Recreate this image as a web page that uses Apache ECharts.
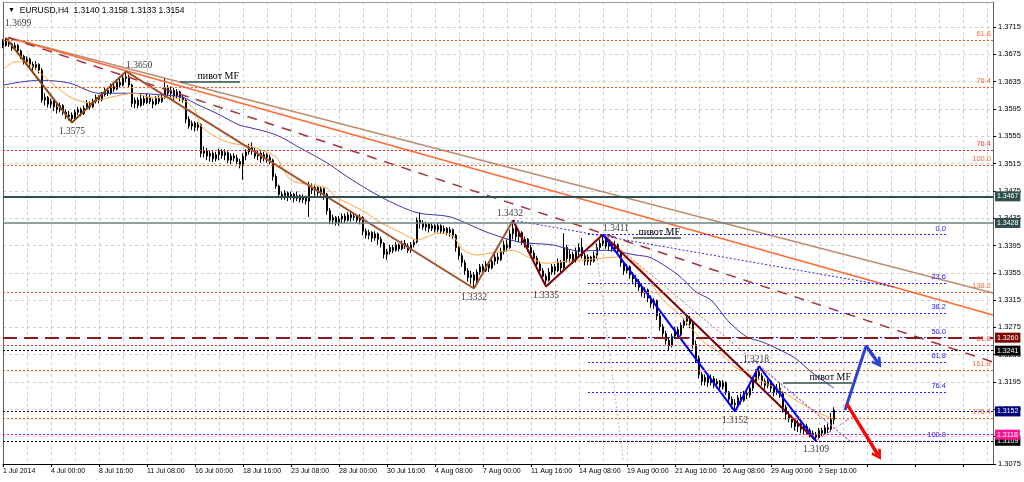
<!DOCTYPE html>
<html><head><meta charset="utf-8">
<script src="https://cdn.jsdelivr.net/npm/echarts@6/dist/echarts.min.js"></script>
<style>html,body{margin:0;padding:0;background:#fff}#c{width:1024px;height:482px}</style>
</head><body><div id="c"></div>
<script>
// ---------------- DATA ----------------
const symbolName = 'EURUSD,H4';
const lastQuote = ['1.3140', '1.3158', '1.3133', '1.3154'];
const tickLabels = ['1 Jul 2014','4 Jul 00:00','8 Jul 16:00','11 Jul 08:00','16 Jul 00:00','18 Jul 16:00','23 Jul 08:00','28 Jul 00:00','30 Jul 16:00','4 Aug 08:00','7 Aug 00:00','11 Aug 16:00','14 Aug 08:00','19 Aug 00:00','21 Aug 16:00','26 Aug 08:00','29 Aug 00:00','2 Sep 16:00'];
const yTicks = { min: 1.3075, max: 1.37516, step: 0.004 };
const barSlots = 330;

// prices in pips above 1.3000
const firstOpen = 692;
const closePips = [
688,694,690,684,688,680,672,664,668,660,
656,660,652,608,612,602,606,598,594,600,
590,584,586,581,590,594,588,596,603,598,
606,612,608,616,622,618,628,624,634,630,
640,642,630,603,608,600,610,604,612,606,
602,610,606,612,626,618,622,614,620,612,
608,580,570,574,568,572,530,534,526,530,
522,528,533,527,531,520,526,523,518,514,
526,532,538,534,526,530,522,528,524,520,
496,482,470,468,472,466,470,464,468,462,
466,460,480,476,480,472,478,470,446,432,
436,428,434,438,432,440,436,438,432,436,
416,410,414,406,412,404,398,382,386,392,
388,396,390,398,394,388,396,400,432,428,
422,426,420,424,418,424,416,420,414,418,
410,392,380,370,358,348,352,344,356,364,
358,368,362,372,378,374,386,396,392,412,
420,408,414,400,404,392,384,376,368,358,
350,344,356,364,358,370,362,392,376,382,
374,386,392,380,372,378,372,380,392,398,
402,394,398,390,396,386,370,358,364,352,
346,342,334,326,330,318,310,314,292,276,
266,256,248,262,272,264,278,284,288,280,
250,230,206,196,202,194,200,192,196,188,
194,180,170,162,164,172,168,178,176,186,
196,210,204,196,190,196,186,180,186,178,
158,148,142,136,130,134,126,130,124,120,
118,114,124,120,128,126,140,154];
const highPips = [
697,699,697,692,692,690,682,674,672,670,
664,665,662,655,618,614,610,608,602,604,
602,594,592,590,594,598,597,600,608,606,
610,616,615,620,626,626,632,632,638,640,
644,650,645,632,612,612,616,614,618,616,
610,614,615,618,640,630,628,626,624,622,
616,610,584,578,577,576,574,540,538,534,
533,532,537,536,536,533,530,530,528,522,
530,536,544,546,538,534,533,532,530,528,
522,500,484,474,476,474,474,472,474,470,
470,468,488,486,484,482,482,480,472,450,
440,438,438,442,442,444,444,442,440,441,
438,420,418,416,416,414,408,400,390,396,
396,400,398,402,403,398,400,404,436,443,
432,430,428,428,426,428,426,424,422,422,
420,412,394,384,374,362,358,356,360,368,
368,372,372,378,384,384,392,402,404,418,
432,424,418,416,408,406,396,388,380,372,
362,354,362,368,368,376,374,413,396,388,
386,392,398,406,384,382,380,386,398,404,
411,406,402,400,402,398,388,372,368,366,
356,352,346,338,334,332,322,318,316,296,
280,270,260,266,276,276,282,288,293,292,
284,256,234,210,206,206,206,204,200,198,
198,196,182,174,170,176,178,182,184,190,
200,214,218,208,200,200,198,190,192,194,
182,162,152,146,140,140,136,134,134,128,
124,122,128,128,132,134,150,158];
const lowPips = [
684,686,686,680,681,676,668,660,658,655,
650,652,647,604,600,597,596,592,588,590,
586,580,578,575,578,586,584,586,594,594,
596,603,603,606,613,614,616,620,622,626,
628,634,626,598,596,596,598,600,602,602,
596,600,602,604,610,614,612,608,610,606,
604,574,566,564,562,563,524,524,520,518,
517,518,520,522,520,516,514,518,514,508,
491,520,528,528,522,520,516,518,516,514,
490,478,466,462,462,460,462,458,460,458,
457,455,437,470,468,466,468,462,440,426,
426,424,424,428,428,430,430,431,428,426,
410,405,404,400,402,396,392,376,374,382,
384,386,386,388,390,384,384,392,398,420,
418,416,414,416,414,414,412,412,410,408,
405,386,374,364,352,342,338,332,340,352,
354,356,356,360,366,368,372,382,386,390,
404,402,400,396,392,386,378,370,362,352,
342,335,342,352,352,356,356,360,370,370,
368,370,380,376,366,366,366,370,376,388,
394,390,388,386,388,382,364,352,354,346,
338,334,328,320,318,312,304,302,286,270,
260,250,242,246,258,260,262,274,278,274,
244,223,200,190,190,188,190,186,186,184,
184,176,164,156,152,160,162,166,170,172,
182,194,198,190,184,186,180,174,176,172,
150,140,136,128,124,122,120,118,118,114,
112,109,112,116,118,120,122,133];

// moving averages: [bar, price]
const maFast = [[0,1.3652],[4,1.3664],[7,1.3664],[12,1.3649],[17,1.3630],[23,1.3611],[29,1.3604],[32,1.3608],[39,1.3615],[44,1.3618],[49,1.3612],[54,1.3612],[60,1.3608],[64,1.3593],[66,1.3570],[71,1.3554],[76,1.3545],[82,1.3541],[86,1.3535],[91,1.3525],[93,1.3510],[96,1.3491],[102,1.3484],[108,1.3479],[111,1.3466],[115,1.3457],[121,1.3443],[126,1.3428],[133,1.3413],[138,1.3403],[141,1.3407],[145,1.3413],[150,1.3409],[153,1.3390],[158,1.3381],[164,1.3385],[170,1.3388],[175,1.3378],[181,1.3369],[186,1.3371],[194,1.3374],[201,1.3377],[205,1.3378],[211,1.3369],[216,1.3340],[220,1.3315],[225,1.3296],[230,1.3271],[234,1.3252],[239,1.3238],[244,1.3217],[248,1.3208],[254,1.3194],[259,1.3183],[264,1.3169],[270,1.3154],[275,1.3144],[277,1.3142]];
const maSlow = [[0,1.3630],[12,1.3637],[22,1.3633],[32,1.3618],[42,1.3618],[55,1.3615],[60,1.3612],[65,1.3601],[71,1.3589],[79,1.3571],[82,1.3568],[91,1.3557],[99,1.3538],[108,1.3516],[115,1.3495],[126,1.3466],[138,1.3443],[149,1.3437],[161,1.3415],[172,1.3400],[183,1.3396],[192,1.3387],[201,1.3388],[211,1.3381],[216,1.3377],[225,1.3352],[231,1.3327],[236,1.3315],[242,1.3283],[248,1.3261],[253,1.3254],[259,1.3242],[264,1.3230],[270,1.3208],[277,1.3186]];

// drawn objects: [bar, price]
const zigBrown = [[1,1.3699],[23,1.3575],[41,1.3650]];
const trendBrown = [[41,1.3650],[157,1.3332]];
const upBrown = [[157,1.3332],[170,1.3432]];
const zigMaroon = [[170,1.3432],[181,1.3335],[200,1.3411]];
const trendMaroon = [[200,1.3411],[271,1.3109]];
const zigBlue = [[200,1.3411],[244,1.3152],[252,1.3218],[271,1.3109]];
const rayTan = [[1.7,1.36995],[330,1.33254]];
const rayOrange = [[1.7,1.36995],[330,1.32932]];
const rayMaroon = [[1.7,1.36995],[330,1.32244]];
const rayBlueDot = [[170,1.3432],[297,1.33342]];
const channelRed = [[200,1.3411],[283,1.3106]];
const channelBlue = [[252,1.3218],[283,1.3106]];
const timeLine = [[197.3,1.3404],[206.8,1.3079]];
const pinkLine = [[271,1.3109],[284,1.31468]];
const arrowUp = [[280.7,1.3154],[287.7,1.3248],[291.7,1.3223]];
const arrowDown = [[281.3,1.3163],[291.7,1.3088]];

// horizontal levels with price tags
const priceLevels = [1.3467, 1.3428, 1.3260, 1.3241, 1.3152, 1.3109, 1.3118];
// fibonacci levels
const fibWideLevels = [1.3696, 1.3627, 1.3535, 1.3513, 1.3327, 1.3249, 1.3213, 1.3142];
const fibWideTexts = ['61.8', '76.4', '76.4', '100.0', '138.2', '61.8', '161.8', '176.4'];
const fibBlueLevels = [1.3411, 1.3340, 1.3296, 1.3260, 1.3224, 1.3180, 1.3109];
const fibBlueTexts = ['0.0', '23.6', '38.2', '50.0', '61.8', '76.4', '100.0'];
const fibBlueBars = [195, 315];
// pivot MF marks: [fromBar, toBar, price]
const pivots = [[59, 79, 1.36345], [210, 226, 1.3406], [260, 283, 1.31936]];
const pivotText = 'пивот MF';
// price annotations
const notesFar = [[1, 1.3699, '1.3699']];
const notesLeft = [[41, 1.3650, '1.3650'], [200, 1.3411, '1.3411']];
const notesTop = [[170, 1.3432, '1.3432'], [252, 1.3218, '1.3218']];
const notesBottom = [[23, 1.3575, '1.3575'], [157, 1.3332, '1.3332'], [181, 1.3335, '1.3335'], [244, 1.3152, '1.3152'], [271, 1.3109, '1.3109']];

// ---------------- STYLE / BUILD ----------------
const SANS = "'Liberation Sans', Arial, sans-serif";
const SERIF = "'Liberation Serif', 'Times New Roman', serif";
const toP = p => +(1.3 + p / 10000).toFixed(5);

const candles = closePips.map((c, i) => {
  const o = i ? closePips[i - 1] : firstOpen;
  const h = Math.max(highPips[i], o, c), l = Math.min(lowPips[i], o, c);
  return [i, toP(o), toP(c), toP(l), toP(h)];
});

const levelLook = [
  { color: '#2F4F4F', type: 'solid', width: 2, box: '#2F4F4F' },
  { color: '#6F8080', type: 'solid', width: 1.5, box: '#2F4F4F' },
  { color: '#8B1A1A', type: [14, 7], width: 2, box: '#800000' },
  { color: '#000000', type: [2, 2], width: 1, box: '#000000' },
  { color: '#0000B0', type: [2, 2], width: 1, box: '#000080' },
  { color: '#000000', type: [2, 2], width: 1, box: '#000000' },
  { color: '#FF1493', type: [2, 2], width: 1, box: '#FF1493' }
];
const fibRed = [false, false, true, false, false, true, false, false];

const chevron = 'path://M5,0 L10,8 L8.2,9.6 L5,4.2 L1.8,9.6 L0,8 Z';

function lineS(data, color, width, type, extra) {
  return Object.assign({
    type: 'line', data, xAxisIndex: 0, yAxisIndex: 0, showSymbol: false, symbol: 'none',
    silent: true, animation: false, z: 4,
    lineStyle: { color, width, type: type || 'solid' }
  }, extra || {});
}
function notes(items, pos, align, dist, offset) {
  return {
    type: 'scatter', xAxisIndex: 0, yAxisIndex: 0, symbolSize: 0, silent: true, animation: false, z: 7,
    data: items.map(a => ({ value: [a[0], a[1]], name: a[2] })),
    label: { show: true, position: pos, align, distance: dist, offset: offset || [0, 0],
      formatter: p => p.name, color: '#000', fontFamily: SERIF, fontSize: 9.5 }
  };
}

const hLines = priceLevels.map((v, k) => ({
  yAxis: v,
  lineStyle: { color: levelLook[k].color, type: levelLook[k].type, width: levelLook[k].width },
  label: { show: true, position: 'end', distance: 2, formatter: p => p.value.toFixed(4),
    color: '#fff', backgroundColor: levelLook[k].box, padding: [2, 2, 1, 2], fontSize: 7, fontFamily: SANS }
}));
const fibWide = fibWideLevels.map((v, k) => ({
  yAxis: v,
  lineStyle: { color: fibRed[k] ? '#FF2A2A' : '#FF5A1A', type: [2, 2], width: 1 },
  label: { show: true, position: 'insideEndTop', distance: 2, formatter: fibWideTexts[k],
    color: fibRed[k] ? '#FF3B3B' : '#FF6A3A', fontSize: 7.5, fontFamily: SANS }
}));
const fibBlue = fibBlueLevels.map((v, k) => ([
  { coord: [fibBlueBars[0], v],
    lineStyle: { color: '#2323FF', type: [2, 2], width: 1 },
    label: { show: true, position: 'insideEndTop', distance: 2, formatter: fibBlueTexts[k],
      color: '#2323FF', fontSize: 7.5, fontFamily: SANS } },
  { coord: [fibBlueBars[1], v] }
]));
const pivotLines = pivots.map(p => ([
  { coord: [p[0], p[2]], lineStyle: { color: '#2F4F4F', width: 1.5, type: 'solid' },
    label: { show: true, position: 'insideEndTop', distance: 1, formatter: pivotText,
      color: '#000', fontFamily: SERIF, fontSize: 10 } },
  { coord: [p[1], p[2]] }
]));

const option = {
  animation: false,
  backgroundColor: '#ffffff',
  title: {
    text: '{t|▼}  ' + symbolName + '  ' + lastQuote.join(' '),
    left: 3, top: 1,
    textStyle: { fontSize: 8.5, fontFamily: SANS, color: '#000', fontWeight: 'normal',
      rich: { t: { fontSize: 7, color: '#000' } } }
  },
  grid: { left: 3, right: 31, top: 2, bottom: 18, containLabel: false },
  xAxis: [
    { type: 'value', min: 0, max: barSlots, interval: 16, position: 'bottom',
      axisLine: { show: true, onZero: false, lineStyle: { color: '#000', width: 1 } },
      axisTick: { show: true, length: 3, lineStyle: { color: '#000' } },
      axisLabel: { show: true, align: 'left', margin: 4, fontSize: 7, fontFamily: SANS, color: '#000',
        showMaxLabel: false,
        formatter: v => (v % 16 === 0 && v / 16 < tickLabels.length) ? tickLabels[v / 16] : '' },
      splitLine: { show: false } },
    { type: 'value', min: 0, max: barSlots, interval: 8, position: 'top',
      axisLine: { show: true, onZero: false, lineStyle: { color: '#9a9a9a', width: 1 } },
      axisTick: { show: false }, axisLabel: { show: false },
      splitLine: { show: true, lineStyle: { color: '#cdcdcd', type: [3, 3], width: 1 } } }
  ],
  yAxis: [
    { type: 'value', position: 'right', min: yTicks.min, max: yTicks.max, interval: yTicks.step, scale: true,
      axisLine: { show: true, onZero: false, lineStyle: { color: '#606060', width: 1 } },
      axisTick: { show: true, length: 3, lineStyle: { color: '#000' } },
      axisLabel: { show: true, margin: 5, fontSize: 7.5, fontFamily: SANS, color: '#000',
        showMaxLabel: false, formatter: v => v.toFixed(4) },
      splitLine: { show: true, lineStyle: { color: '#cdcdcd', type: [3, 3], width: 1 } } },
    { type: 'value', position: 'left', min: yTicks.min, max: yTicks.max, scale: true,
      axisLine: { show: true, onZero: false, lineStyle: { color: '#606060', width: 1 } },
      axisTick: { show: false }, axisLabel: { show: false }, splitLine: { show: false } }
  ],
  series: [
    { type: 'line', data: [], xAxisIndex: 0, yAxisIndex: 0, silent: true, z: 2,
      markLine: { silent: true, symbol: 'none', animation: false, precision: 4, data: fibWide.concat(fibBlue) } },
    { type: 'candlestick', xAxisIndex: 0, yAxisIndex: 0, data: candles,
      dimensions: ['bar', 'open', 'close', 'lowest', 'highest'],
      encode: { x: 0, y: [1, 2, 3, 4] },
      barWidth: 2, silent: true, animation: false, z: 3,
      itemStyle: { color: '#ffffff', color0: '#000000', borderColor: '#000000', borderColor0: '#000000', borderWidth: 1 } },
    lineS(maSlow, '#3535B5', 1, 'solid', { smooth: 0.3 }),
    lineS(maFast, '#FFA53A', 1, 'solid', { smooth: 0.3 }),
    lineS(rayTan, '#BE8C6E', 1.5),
    lineS(rayOrange, '#FF6A35', 1.5),
    lineS(rayMaroon, '#A3343C', 1.5, [10, 8]),
    lineS(rayBlueDot, '#2B2BE0', 1, [2, 2]),
    lineS(channelRed, '#D06060', 1, [2, 2]),
    lineS(channelBlue, '#6A6AE0', 1, [2, 2]),
    lineS(timeLine, '#B8B8B8', 1, [2, 2]),
    lineS(pinkLine, '#FF55CC', 1, [4, 3]),
    lineS(zigBrown, '#8B4513', 2),
    lineS(trendBrown, '#A0522D', 2),
    lineS(upBrown, '#A0522D', 2),
    lineS(zigMaroon, '#800000', 2),
    lineS(trendMaroon, '#800000', 2),
    lineS(zigBlue, '#0000FF', 2),
    { type: 'line', data: [], xAxisIndex: 0, yAxisIndex: 0, silent: true, z: 5,
      markLine: { silent: true, symbol: 'none', animation: false, precision: 4, data: hLines.concat(pivotLines) } },
    lineS(arrowUp, '#2E3FD4', 3, 'solid', { z: 6,
      markLine: { silent: true, animation: false, symbol: ['none', chevron], symbolSize: [11, 11],
        lineStyle: { color: '#2E3FD4', width: 3, type: 'solid' }, label: { show: false },
        data: [[{ coord: arrowUp[1] }, { coord: arrowUp[2] }]] } }),
    lineS(arrowDown, '#FF0000', 3, 'solid', { z: 6,
      markLine: { silent: true, animation: false, symbol: ['none', chevron], symbolSize: [11, 11],
        lineStyle: { color: '#FF0000', width: 3, type: 'solid' }, label: { show: false },
        data: [[{ coord: arrowDown[0] }, { coord: arrowDown[1] }]] } }),
    notes(notesFar, 'top', 'left', 9, [-1, 0]),
    notes(notesLeft, 'top', 'left', 1, [0, 0]),
    notes(notesTop, 'top', 'center', 2, [-3, 0]),
    notes(notesBottom, 'bottom', 'center', 4, [0, 0])
  ]
};

const chart = echarts.init(document.getElementById('c'), null, { renderer: 'canvas' });
chart.setOption(option);
</script>
</body></html>
